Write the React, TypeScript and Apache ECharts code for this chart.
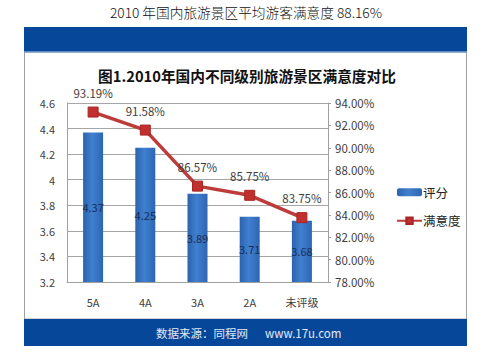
import React, { useEffect, useRef } from "react";
import * as echarts from "echarts";

const categories = ["5A", "4A", "3A", "2A", "未评级"];
const scores = [4.37, 4.25, 3.89, 3.71, 3.68];
const satisfaction = [93.19, 91.58, 86.57, 85.75, 83.75];
const pageTitle = "2010 年国内旅游景区平均游客满意度 88.16%";
const chartTitle = "图1.2010年国内不同级别旅游景区满意度对比";
const sourceText = "数据来源：同程网";
const siteText = "www.17u.com";

export default function App() {
  const ref = useRef<HTMLDivElement>(null);
  useEffect(() => {
    if (!ref.current) return;
    const chart = echarts.init(ref.current, null, { renderer: "svg" });
    const font = "'Noto Sans CJK SC', 'Noto Sans', sans-serif";
    chart.setOption({
      animation: false,
      backgroundColor: "#ffffff",
      textStyle: { fontFamily: font },
      graphic: [
        { type: "rect", shape: { x: 24.5, y: 52, width: 442, height: 267 }, style: { fill: "#fff", stroke: "#a0a0a0", lineWidth: 1 }, z: -10 },
        { type: "rect", shape: { x: 24, y: 27, width: 443, height: 25 }, style: { fill: "#07479a" } },
        { type: "rect", shape: { x: 24, y: 51, width: 443, height: 1.5 }, style: { fill: "#5f8cc4" } },
        { type: "rect", shape: { x: 24, y: 319, width: 443, height: 27 }, style: { fill: "#07479a" } },
        { type: "text", x: 246, y: 12, style: { text: pageTitle, fontSize: 13.7, fontFamily: "'Noto Sans CJK SC', 'DejaVu Sans Mono', monospace", fontWeight: 300, fill: "#111", align: "center", verticalAlign: "middle" } },
        { type: "text", x: 247, y: 75, style: { text: chartTitle, fontSize: 14.7, fontWeight: "bold", fontFamily: font, fill: "#111", align: "center", verticalAlign: "middle" } },
        { type: "text", x: 248, y: 333, style: { text: sourceText, fontSize: 11.5, fontFamily: font, fill: "#e4e9f2", align: "right", verticalAlign: "middle" } },
        { type: "text", x: 265, y: 333, style: { text: siteText, fontSize: 11.5, fontFamily: font, fill: "#e4e9f2", align: "left", verticalAlign: "middle" } },
      ],
      grid: { left: 67, right: 164, top: 103, bottom: 78, containLabel: false },
      legend: {
        orient: "vertical",
        left: 391,
        top: 181,
        itemWidth: 25,
        itemHeight: 8,
        itemGap: 16,
        textStyle: { fontSize: 12.5, color: "#222", padding: [0, 0, 0, -4] },
        data: ["评分", "满意度"],
      },
      xAxis: {
        type: "category",
        data: categories,
        axisLine: { show: true, lineStyle: { color: "#a0a0a0" } },
        axisTick: { show: false },
        axisLabel: { color: "#404040", fontSize: 11, margin: 14 },
      },
      yAxis: [
        {
          type: "value",
          min: 3.2,
          max: 4.6,
          interval: 0.2,
          axisLine: { show: true, lineStyle: { color: "#a0a0a0" } },
          axisTick: { show: false },
          axisLabel: { color: "#404040", fontSize: 11, margin: 12, formatter: (v: number) => String(+v.toFixed(1)) },
          splitLine: { lineStyle: { color: "#a6a6a6" } },
        },
        {
          type: "value",
          min: 78,
          max: 94,
          interval: 2,
          position: "right",
          axisLine: { show: true, lineStyle: { color: "#a0a0a0" } },
          axisTick: { show: true, length: 3, lineStyle: { color: "#a0a0a0" } },
          axisLabel: { color: "#404040", fontSize: 11.5, margin: 7, formatter: (v: number) => v.toFixed(2) + "%" },
          splitLine: { show: false },
        },
      ],
      series: [
        {
          name: "评分",
          type: "bar",
          data: scores,
          barWidth: 20,
          itemStyle: {
            color: new echarts.graphic.LinearGradient(0, 0, 1, 0, [
              { offset: 0, color: "#2b62ad" },
              { offset: 0.45, color: "#4080d0" },
              { offset: 1, color: "#2d66b2" },
            ]),
          },
          label: { show: true, position: "inside", color: "#1a2f5a", fontSize: 11 },
        },
        {
          name: "满意度",
          type: "line",
          yAxisIndex: 1,
          data: satisfaction,
          symbol: "rect",
          symbolSize: 10,
          lineStyle: { color: "#be3b3b", width: 3.5 },
          itemStyle: { color: "#c0302e", borderColor: "#a82525", borderWidth: 1 },
          label: { show: true, position: "top", distance: 8, color: "#404040", fontSize: 11.5, formatter: (p: any) => p.value.toFixed(2) + "%" },
          z: 5,
        },
      ],
    });
    return () => chart.dispose();
  }, []);
  return <div ref={ref} style={{ position: "absolute", left: 0, top: 0, width: 492, height: 360 }} />;
}
